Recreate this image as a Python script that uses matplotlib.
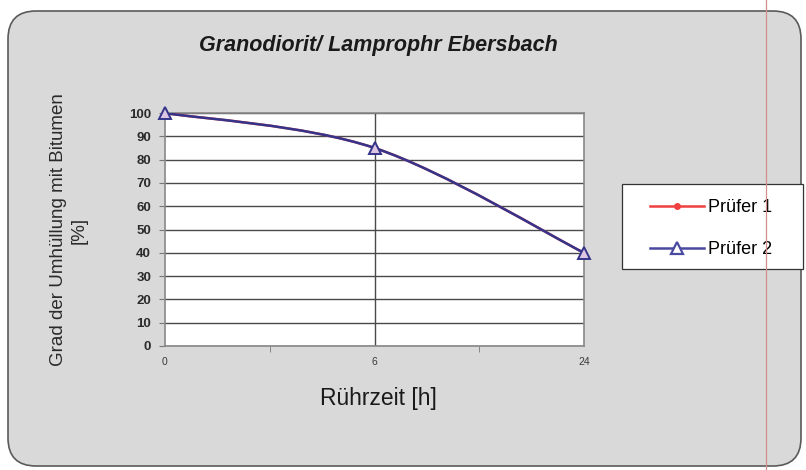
import matplotlib
matplotlib.use("Agg")
from matplotlib import pyplot as plt
from matplotlib.path import Path
from matplotlib.patches import PathPatch, FancyBboxPatch, Rectangle
from matplotlib.lines import Line2D
import numpy as np

plt.rcParams['font.family'] = ['Liberation Sans', 'DejaVu Sans']

# data
zeit_labels = ['0', '6', '24']
pruefer_1 = [100, 85, 40]
pruefer_2 = [100, 85, 40]
y_ticks = list(range(0, 101, 10))

RED = '#f04848'
BLUE = '#34348a'


def smooth_path(xs, ys):
    # Bezier segments like the spreadsheet "smoothed line" option
    pts = list(zip(xs, ys))
    verts = [pts[0]]
    codes = [Path.MOVETO]
    for i in range(len(pts) - 1):
        p0 = pts[i - 1] if i > 0 else pts[i]
        p1 = pts[i]
        p2 = pts[i + 1]
        p3 = pts[i + 2] if i + 2 < len(pts) else pts[i + 1]
        c1 = (p1[0] + (p2[0] - p0[0]) / 6, p1[1] + (p2[1] - p0[1]) / 6)
        c2 = (p2[0] - (p3[0] - p1[0]) / 6, p2[1] - (p3[1] - p1[1]) / 6)
        verts += [c1, c2, p2]
        codes += [Path.CURVE4] * 3
    return Path(verts, codes)


fig = plt.figure(figsize=(8.06, 4.70), dpi=100)
fig.patch.set_facecolor('white')

# grey rounded chart area
bg = FancyBboxPatch((0.08, 0.04), 7.93, 4.55, boxstyle='round,pad=0,rounding_size=0.28',
                    transform=fig.dpi_scale_trans, facecolor='#d9d9d9',
                    edgecolor='#5a5a5a', linewidth=1.2, zorder=-5)
fig.patches.append(bg)

ax = fig.add_axes([165 / 806, 1 - 346 / 470, 419 / 806, 233 / 470])
ax.set_zorder(2)
ax.set_facecolor('white')

x = np.arange(len(zeit_labels))

# series
ax.add_patch(PathPatch(smooth_path(x, pruefer_1), fill=False, edgecolor=RED, lw=1.8, zorder=3))
ax.plot(x, pruefer_1, ls='none', marker='o', ms=4, color=RED, zorder=3)
ax.add_patch(PathPatch(smooth_path(x, pruefer_2), fill=False, edgecolor=BLUE, lw=1.8, zorder=4))
ax.plot(x, pruefer_2, ls='none', marker='^', ms=8, markeredgecolor=BLUE,
        markerfacecolor='#dcc6e2', markeredgewidth=1.4, zorder=5, clip_on=False)

ax.set_xlim(0, 2)
ax.set_ylim(0, 100)
ax.set_yticks(y_ticks)
ax.set_yticklabels([str(v) for v in y_ticks], fontsize=9.5, fontweight='bold', color='#2a2a2a')
ax.set_xticks(x)
ax.set_xticklabels(zeit_labels, fontsize=7.5, color='#3a3a3a')
ax.set_xticks([0.5, 1.5], minor=True)
ax.tick_params(axis='x', which='major', length=0, pad=8)
ax.tick_params(axis='x', which='minor', length=4, color='#777777')
ax.tick_params(axis='y', length=4, color='#777777', pad=6)

ax.grid(axis='y', color='#4a4a4a', lw=1.0)
ax.axvline(1, color='#4a4a4a', lw=1.0)
for s in ax.spines.values():
    s.set_color('#888888')
    s.set_linewidth(1.2)

fig.text(378 / 806, 1 - 45 / 470, 'Granodiorit/ Lamprophr Ebersbach', ha='center', va='center',
         fontsize=15.5, fontweight='bold', fontstyle='italic', color='#1a1a1a')
fig.text(69 / 806, 1 - 230 / 470, 'Grad der Umhüllung mit Bitumen\n[%]', ha='center', va='center',
         rotation=90, fontsize=13.5, color='#2a2a2a', linespacing=1.25, multialignment='center')
fig.text(378 / 806, 1 - 399 / 470, 'Rührzeit [h]', ha='center', va='center',
         fontsize=16.5, color='#1a1a1a')

# legend: frame drawn separately, it is much wider than its entries
fig.add_artist(Rectangle((622 / 806, 1 - 269 / 470), 181 / 806, 85 / 470,
                         transform=fig.transFigure, facecolor='white',
                         edgecolor='#333333', lw=0.9, zorder=3))
handles = [Line2D([], [], color='#f04040', lw=1.8, marker='o', ms=4),
           Line2D([], [], color='#4a4aa0', lw=1.8, marker='^', ms=8, markerfacecolor='white',
                  markeredgewidth=1.6)]
leg = fig.legend(handles, ['Prüfer 1', 'Prüfer 2'], loc='center',
                 bbox_to_anchor=(711 / 806, 1 - 228.5 / 470), fontsize=13,
                 labelspacing=1.4, handlelength=3.0, handletextpad=0.22,
                 borderpad=0, borderaxespad=0, frameon=False)
leg.set_zorder(4)

# page margin line from the scan
fig.add_artist(Line2D([766 / 806, 766 / 806], [0, 1], color='#d48c8c', lw=0.9,
                      transform=fig.transFigure, zorder=5))

fig.savefig('out.png', dpi=100)
